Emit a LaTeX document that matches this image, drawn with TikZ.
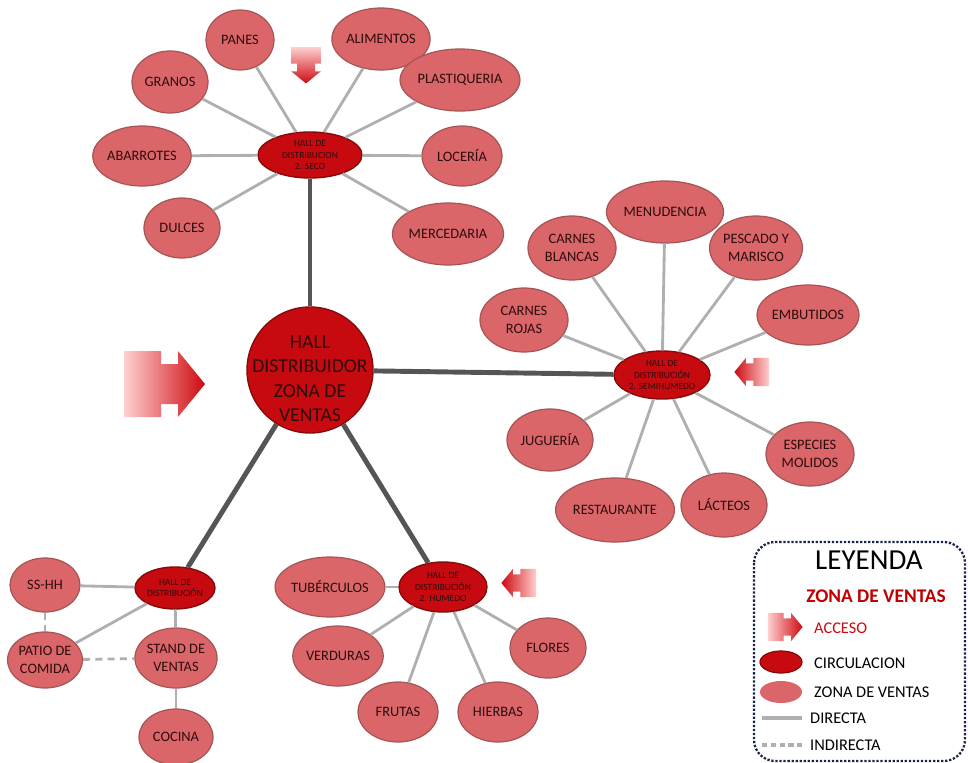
\documentclass[tikz,border=0pt]{standalone}
\usepackage{fontspec}
\setmainfont{Carlito}
\usetikzlibrary{shapes.geometric}

\definecolor{hallC}{RGB}{198,10,16}
\definecolor{hallB}{RGB}{135,10,10}
\definecolor{zonaC}{RGB}{219,102,106}
\definecolor{zonaB}{RGB}{165,85,85}
\definecolor{txtC}{RGB}{45,12,12}
\definecolor{lineaC}{RGB}{175,175,175}
\definecolor{ejeC}{RGB}{85,85,85}
\definecolor{accL}{RGB}{255,208,208}
\definecolor{accD}{RGB}{205,10,15}
\definecolor{rojoT}{RGB}{192,0,0}
\definecolor{leyC}{RGB}{25,35,75}

\tikzset{
  zona/.style 2 args={ellipse, draw=zonaB, line width=0.7pt, fill=zonaC,
    text=txtC, inner sep=0pt, minimum width=#1*0.2mm, minimum height=#2*0.2mm,
    align=center, font=\fontsize{8.2}{10}\selectfont},
  hall/.style 2 args={ellipse, draw=hallB, line width=0.8pt, fill=hallC,
    text=txtC, inner sep=0pt, minimum width=#1*0.2mm, minimum height=#2*0.2mm,
    align=center, font=\fontsize{5.4}{6.4}\selectfont},
  directa/.style={draw=lineaC, line width=1.6pt},
  indirecta/.style={directa, dash pattern=on 4pt off 3pt},
  eje/.style={draw=ejeC, line width=2.8pt},
  leytxt/.style={anchor=west, font=\fontsize{9.3}{11}\selectfont},
  % access arrow, pointing right before rotation
  pics/acceso/.style={code={
    \shade[top color=accL, bottom color=accD, shading angle=#1]
      (-40,-33) -- (-3,-33) -- (-3,-20) -- (14,-20) -- (14,-33) -- (41,0)
      -- (14,33) -- (14,20) -- (-3,20) -- (-3,33) -- (-40,33) -- cycle;
  }}
}

\begin{document}
\begin{tikzpicture}[x=0.2mm, y=-0.2mm]
  \useasboundingbox (0,0) rectangle (968,763);

  % central hall, text sits a little low in the circle
  \node[circle, draw=hallB, line width=0.8pt, fill=hallC, text=txtC,
    minimum size=126*0.2mm, inner sep=0pt,
    font=\fontsize{11.2}{14}\selectfont] (centro) at (310,370)
    {\raisebox{-8.5pt}[0pt][0pt]{\begin{tabular}{@{}c@{}}
      HALL\\DISTRIBUIDOR\\ZONA DE\\VENTAS\end{tabular}}};
  \pic at (164,384) {acceso=90};

  % dry zone
  \node[hall={104}{46}] (seco) at (310,155) {HALL DE\\DISTRIBUCION\\2. SECO};
  \node[zona={68}{60}] (panes) at (240,40) {PANES};
  \node[zona={80}{62}] (alimentos) at (381,39) {ALIMENTOS};
  \node[zona={76}{62}] (granos) at (170,82) {GRANOS};
  \node[zona={86}{62}] (plastiq) at (460,80) {PLASTIQUERIA};
  \node[zona={80}{60}] (abarrotes) at (142,156) {ABARROTES};
  \node[zona={80}{60}] (loceria) at (462,156) {LOCERÍA};
  \node[zona={76}{60}] (dulces) at (182,228) {DULCES};
  \node[zona={86}{62}] (merced) at (448,234) {MERCEDARIA};
  \pic[rotate=-90, scale=0.45] at (306,65) {acceso=0};
  \foreach \z in {panes,alimentos,granos,plastiq,abarrotes,loceria,dulces,merced}
    \draw[directa] (seco) -- (\z);

  % semi-wet zone
  \node[hall={96}{48}] (semih) at (662,375) {HALL DE\\DISTRIBUCIÓN\\2. SEMIHUMEDO};
  \node[zona={90}{62}] (menud) at (665,212) {MENUDENCIA};
  \node[zona={88}{64}] (cblancas) at (572,248) {CARNES\\BLANCAS};
  \node[zona={88}{64}] (pescado) at (756,248) {PESCADO Y\\MARISCO};
  \node[zona={88}{64}] (crojas) at (524,320) {CARNES\\ROJAS};
  \node[zona={86}{60}] (embut) at (808,315) {EMBUTIDOS};
  \node[zona={86}{62}] (jugueria) at (550,440) {JUGUERÍA};
  \node[zona={88}{64}] (especies) at (810,454) {ESPECIES\\MOLIDOS};
  \node[zona={92}{64}] (restau) at (615,510) {RESTAURANTE};
  \node[zona={86}{64}] (lacteos) at (724,505) {LÁCTEOS};
  \pic[rotate=180, scale=0.43] at (752,372) {acceso=-90};
  \foreach \z in {menud,cblancas,pescado,crojas,embut,jugueria,especies,restau,lacteos}
    \draw[directa] (semih) -- (\z);

  % wet zone
  \node[hall={88}{50}] (humedo) at (443,587) {HALL DE\\DISTRIBUCIÓN\\2. HUMEDO};
  \node[zona={86}{60}] (tuberc) at (330,587) {TUBÉRCULOS};
  \node[zona={80}{60}] (verduras) at (338,656) {VERDURAS};
  \node[zona={76}{60}] (flores) at (548,648) {FLORES};
  \node[zona={80}{60}] (frutas) at (398,712) {FRUTAS};
  \node[zona={80}{60}] (hierbas) at (498,712) {HIERBAS};
  \pic[rotate=180, scale=0.43] at (519,583) {acceso=-90};
  \foreach \z in {tuberc,verduras,flores,frutas,hierbas}
    \draw[directa] (humedo) -- (\z);

  % food court
  \node[hall={80}{42}] (hallc) at (175,588) {HALL DE\\DISTRIBUCIÓN};
  \node[zona={70}{54}] (sshh) at (45,585) {SS-HH};
  \node[zona={72}{56}] (patio) at (45,660) {PATIO DE\\COMIDA};
  \node[zona={76}{60}] (stand) at (176,658) {STAND  DE\\VENTAS};
  \node[zona={74}{56}] (cocina) at (176,737) {COCINA};
  \draw[directa] (hallc) -- (sshh);
  \draw[directa] (hallc) -- (patio);
  \draw[directa] (hallc) -- (stand);
  \draw[directa] (stand) -- (cocina);
  \draw[indirecta] (sshh) -- (patio);
  \draw[indirecta] (patio) -- (stand);

  % main axes
  \draw[eje] (centro) -- (seco);
  \draw[eje] (centro) -- (semih);
  \draw[eje] (centro) -- (humedo);
  \draw[eje] (centro) -- (hallc);

  % legend
  \draw[leyC, line width=1.3pt, dash pattern=on 1.3pt off 1pt,
    rounded corners=12pt] (754,542) rectangle (965,761);
  \node[font=\fontsize{16.5}{19}\selectfont] (leyenda) at (869,560) {LEYENDA};
  \node[font=\bfseries\fontsize{11}{12}\selectfont, text=rojoT] (leyzona)
    at (876,596) {ZONA DE VENTAS};
  \pic[scale=0.43] at (785,627) {acceso=90};
  \node[leytxt, text=accD] (leyacc) at (808,628) {ACCESO};
  \node[ellipse, draw=hallB, line width=0.7pt, fill=hallC,
    minimum width=42*0.2mm, minimum height=22*0.2mm] (leycirc) at (781,662) {};
  \node[leytxt] (leycirct) at (808,663) {CIRCULACION};
  \node[ellipse, fill=zonaC, minimum width=42*0.2mm,
    minimum height=22*0.2mm] (leyvent) at (781,692) {};
  \node[leytxt] (leyventt) at (808,692) {ZONA DE VENTAS};
  \draw[directa, line width=2.2pt] (762,718) -- (802,718);
  \node[leytxt] (leydir) at (804,718) {DIRECTA};
  \draw[indirecta, line width=2.2pt, dash pattern=on 3pt off 2pt]
    (762,745) -- (802,745);
  \node[leytxt] (leyind) at (804,745) {INDIRECTA};
\end{tikzpicture}
\end{document}
